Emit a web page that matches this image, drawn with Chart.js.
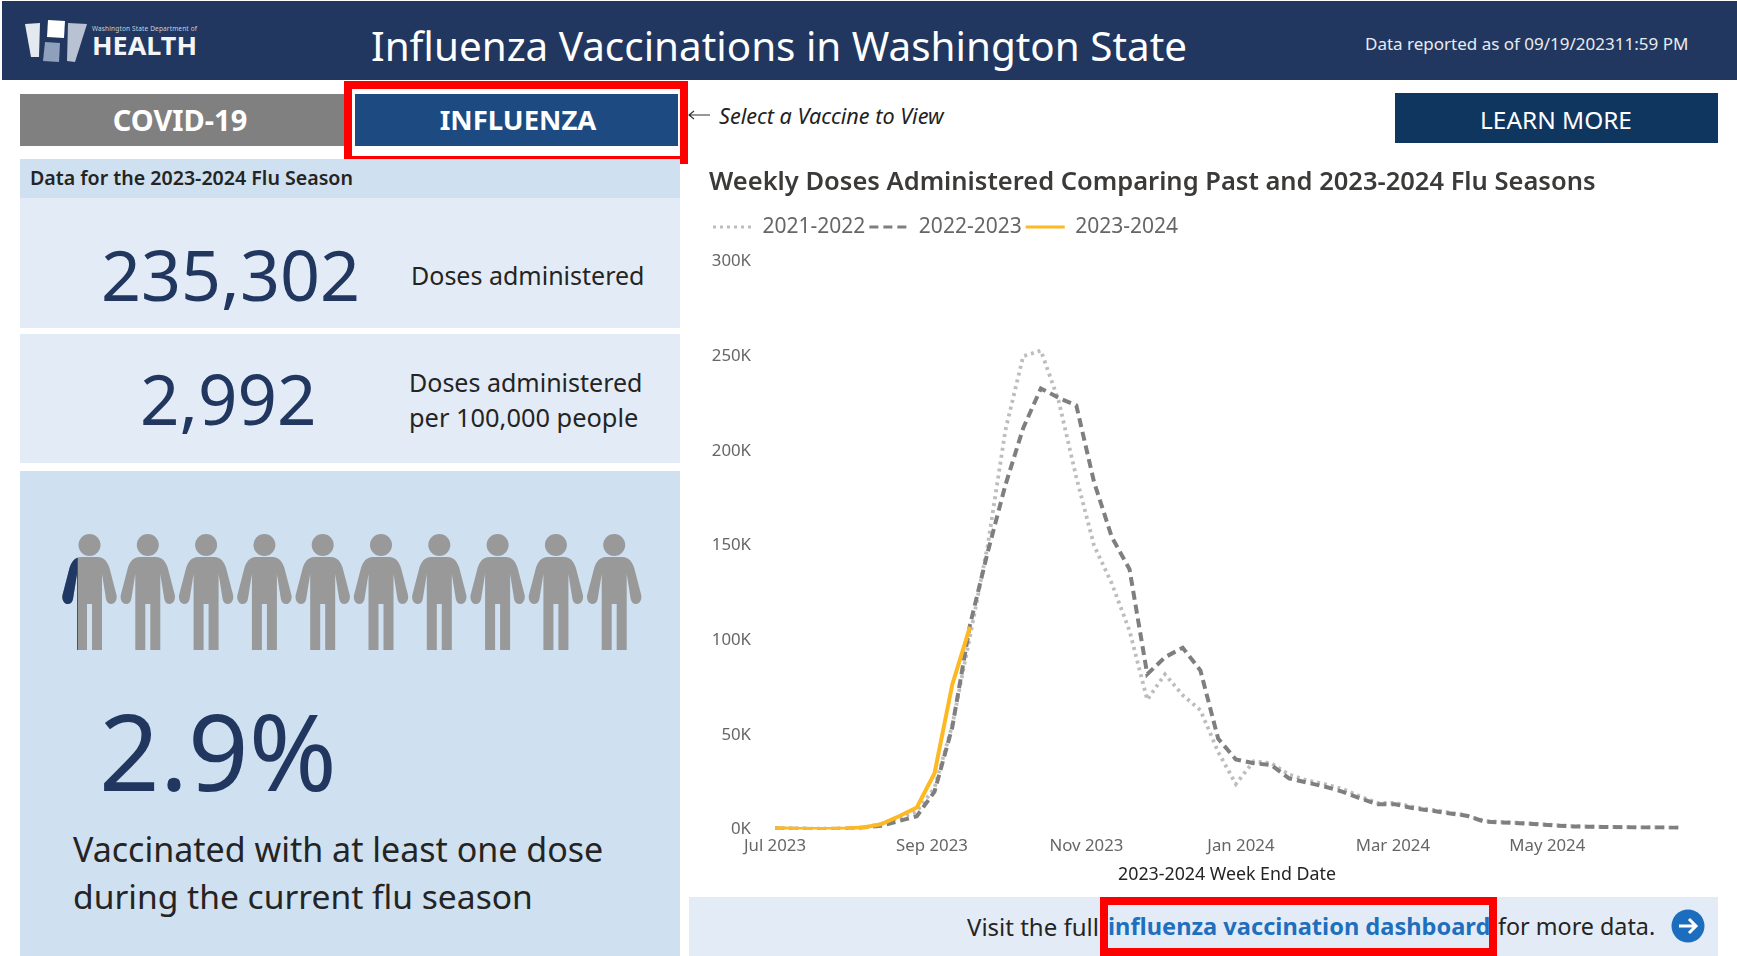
<!DOCTYPE html>
<html>
<head>
<meta charset="utf-8">
<title>Influenza Vaccinations in Washington State</title>
<script src="https://cdn.jsdelivr.net/npm/chart.js@4"></script>
<style>
  html, body { margin: 0; padding: 0; background: #fff; }
  body { width: 1737px; height: 956px; position: relative; overflow: hidden; font-family: "Noto Sans", sans-serif; }
  .box { position: absolute; }
  .txt { position: absolute; white-space: nowrap; line-height: 1; transform: translateY(-50%); }
  .ctr { transform: translate(-50%, -50%); }
  .stat { color: #21375f; }
  .redbox { position: absolute; border: 8px solid #ff0000; box-sizing: border-box; }
  #chart-wrap { position: absolute; left: 690px; top: 160px; width: 1047px; height: 726px; }
</style>
</head>
<body>
  <!-- header -->
  <div class="box" style="left:2px;top:1px;width:1735px;height:79px;background:#21375f"></div>
  <svg class="box" style="left:20px;top:14px" width="180" height="54">
    <polygon points="5,10 20,9 19,43 11,43" fill="#e4e8ef"/>
    <polygon points="28,6 45,7 44,24 27,23" fill="#ffffff"/>
    <polygon points="25,28 40,29 39,48 23,47" fill="#8fa0bc"/>
    <polygon points="48,9 67,10 55,48 47,47" fill="#b8c2d2"/>
    <text x="72" y="17" font-size="6.5" fill="#c8d0dc" font-family="Noto Sans" textLength="105">Washington State Department of</text>
    <text x="72" y="41" font-size="25" font-weight="700" fill="#f2f4f7" font-family="Noto Sans" textLength="105" lengthAdjust="spacingAndGlyphs">HEALTH</text>
  </svg>
  <div class="txt ctr" style="left:779px;top:46px;font-size:40.4px;color:#fff">Influenza Vaccinations in Washington State</div>
  <div class="txt" style="left:1365px;top:43px;font-size:17px;color:#e8ecf2">Data reported as of 09/19/202311:59 PM</div>

  <!-- vaccine buttons -->
  <div class="box" style="left:20px;top:94px;width:324px;height:52px;background:#808080"></div>
  <div class="txt ctr" style="left:180px;top:119px;font-size:29px;font-weight:700;color:#fff">COVID-19</div>
  <div class="box" style="left:355px;top:94px;width:323px;height:52px;background:#1d4a80"></div>
  <div class="txt ctr" style="left:518px;top:120px;font-size:27.5px;font-weight:700;color:#fff">INFLUENZA</div>
  <div class="redbox" style="left:344px;top:81px;width:344px;height:83px"></div>
  <svg class="box" style="left:687px;top:108px" width="24" height="14">
    <path d="M2,7 H23 M7,3 L2,7 L7,11" stroke="#333" stroke-width="1.2" fill="none"/>
  </svg>
  <div class="txt" style="left:719px;top:116px;font-size:21.6px;font-style:italic;color:#222">Select a Vaccine to View</div>
  <div class="box" style="left:1395px;top:93px;width:323px;height:50px;background:#0f365f"></div>
  <div class="txt ctr" style="left:1556px;top:120px;font-size:24.4px;color:#fff">LEARN MORE</div>

  <!-- left stat panels -->
  <div class="box" style="left:20px;top:159px;width:660px;height:39px;background:#cfe0f0"></div>
  <div class="txt" style="left:30px;top:178px;font-size:19.6px;font-weight:600;color:#252423">Data for the 2023-2024 Flu Season</div>
  <div class="box" style="left:20px;top:198px;width:660px;height:130px;background:#e3ecf6"></div>
  <div class="box" style="left:20px;top:334px;width:660px;height:129px;background:#e3ecf6"></div>
  <div class="txt stat" style="left:101px;top:274px;font-size:70px">235,302</div>
  <div class="txt" style="left:411px;top:275px;font-size:25px;color:#252423">Doses administered</div>
  <div class="txt stat" style="left:140px;top:398px;font-size:69px">2,992</div>
  <div class="txt" style="left:409px;top:382px;font-size:25px;color:#252423">Doses administered</div>
  <div class="txt" style="left:409px;top:418px;font-size:25.4px;color:#252423">per 100,000 people</div>

  <div class="box" style="left:20px;top:471px;width:660px;height:485px;background:#cfe0f0"></div>
  <svg id="people" class="box" style="left:0;top:534px" width="680" height="120"></svg>
  <div class="txt stat" style="left:99px;top:750px;font-size:106px">2.9%</div>
  <div class="txt" style="left:73px;top:849px;font-size:34px;color:#252423">Vaccinated with at least one dose</div>
  <div class="txt" style="left:73px;top:897px;font-size:33.6px;color:#252423">during the current flu season</div>

  <!-- chart -->
  <div id="chart-wrap"><canvas id="dosesChart"></canvas></div>

  <!-- footer link -->
  <div class="box" style="left:689px;top:897px;width:1029px;height:59px;background:#e3ecf6"></div>
  <div class="txt" style="left:967px;top:927px;font-size:24px;color:#252423">Visit the full</div>
  <div class="txt" style="left:1108px;top:927px;font-size:23.6px;font-weight:700;color:#1f6fbf">influenza vaccination dashboard</div>
  <div class="txt" style="left:1498px;top:927px;font-size:23.3px;color:#252423">for more data.</div>
  <div class="redbox" style="left:1100px;top:897px;width:397px;height:59px"></div>
  <svg class="box" style="left:1671px;top:909px" width="34" height="34">
    <circle cx="17" cy="17" r="16.5" fill="#1c6dbd"/>
    <path d="M8,17 H25 M18,10 L25,17 L18,24" stroke="#fff" stroke-width="3" fill="none"/>
  </svg>

<script>
const weekEndDates = [
  '2023-07-01','2023-07-08','2023-07-15','2023-07-22','2023-07-29','2023-08-05','2023-08-12','2023-08-19','2023-08-26',
  '2023-09-02','2023-09-09','2023-09-16','2023-09-23','2023-09-30','2023-10-07','2023-10-14','2023-10-21','2023-10-28',
  '2023-11-04','2023-11-11','2023-11-18','2023-11-25','2023-12-02','2023-12-09','2023-12-16','2023-12-23','2023-12-30',
  '2024-01-06','2024-01-13','2024-01-20','2024-01-27','2024-02-03','2024-02-10','2024-02-17','2024-02-24',
  '2024-03-02','2024-03-09','2024-03-16','2024-03-23','2024-03-30','2024-04-06','2024-04-13','2024-04-20','2024-04-27',
  '2024-05-04','2024-05-11','2024-05-18','2024-05-25','2024-06-01','2024-06-08','2024-06-15','2024-06-22'
];
const doses2021 = [
  600, 500, 400, 400, 500, 1000, 3000, 6000, 9500, 22000,
  55000, 102000, 150000, 211000, 250000, 253000, 226500, 186000, 150000, 130000,
  105000, 68500, 82000, 71000, 63000, 41000, 24000, 36000, 35000, 29000,
  26000, 24000, 21500, 17500, 14000, 14000, 12000, 10500, 9000, 7500,
  4500, 4000, 3500, 3000, 2300, 1800, 1500, 1400, 1200, 1100, 1000, 900
];
const doses2022 = [
  500, 400, 300, 300, 400, 1000, 2000, 4500, 7000, 20000,
  54000, 108000, 146500, 182000, 212000, 233000, 228000, 224000, 183500, 154500,
  137500, 82000, 91000, 96000, 84000, 48000, 37000, 35000, 34000, 27000,
  24800, 22700, 20000, 16500, 13300, 13300, 11200, 10000, 8600, 7300,
  4200, 3700, 3300, 2800, 2100, 1600, 1400, 1300, 1200, 1000, 1000, 900
];
const doses2023 = [600, 400, 300, 300, 500, 1000, 2800, 7000, 11600, 29700, 76500, 107000];
const tickDates = ['2023-07-01', '2023-09-01', '2023-11-01', '2024-01-01', '2024-03-01', '2024-05-01'];
const tickLabels = ['Jul 2023', 'Sep 2023', 'Nov 2023', 'Jan 2024', 'Mar 2024', 'May 2024'];

const toMs = d => Date.parse(d + 'T00:00:00Z');
const toPoints = vals => vals.map((v, i) => ({ x: toMs(weekEndDates[i]), y: v }));
const FONT = '"Noto Sans", sans-serif';

// pictogram row, first figure's arm is filled navy
const PERSON = 'M21,23 H37 C44,23 47,28 49,34 L56,61 C57,66 54,70 51,70 C48,70 46,68 45.5,65 L41.5,40 V116 H31.5 V70 H26.5 V116 H16.5 V40 L12.5,65 C12,68 10,70 7,70 C4,70 1,66 2,61 L9,34 C11,28 14,23 21,23 Z';
let people = '<defs><clipPath id="arm"><rect x="0" y="0" width="17.2" height="120"/></clipPath></defs>';
for (let i = 0; i < 10; i++) {
  const x = 60.5 + i * 58.3;
  people += `<g transform="translate(${x},0)"><circle cx="29" cy="11" r="11" fill="#999"/><path d="${PERSON}" fill="#999"/>`;
  if (i === 0) people += `<path d="${PERSON}" fill="#1f3864" clip-path="url(#arm)"/>`;
  people += '</g>';
}
document.getElementById('people').innerHTML = people;

// extra room under the legend
const legendGap = {
  id: 'legendGap',
  beforeInit(chart) {
    const fit = chart.legend.fit;
    chart.legend.fit = function () {
      fit.call(this);
      this.height += 14;
    };
  },
};

const ctx = document.getElementById('dosesChart').getContext('2d');
new Chart(ctx, {
  type: 'line',
  plugins: [legendGap],
  data: {
    datasets: [{
      label: '2021-2022',
      data: toPoints(doses2021),
      borderColor: '#bdbdbd',
      borderWidth: 3.8,
      borderDash: [3, 4],
      pointRadius: 0,
      order: 3,
    }, {
      label: '2022-2023',
      data: toPoints(doses2022),
      borderColor: '#7f7f7f',
      borderWidth: 4,
      borderDash: [9, 5],
      pointRadius: 0,
      order: 2,
    }, {
      label: '2023-2024',
      data: toPoints(doses2023),
      borderColor: '#fdb924',
      borderWidth: 4,
      pointRadius: 0,
      order: 1,
    }]
  },
  options: {
    responsive: true,
    maintainAspectRatio: false,
    animation: false,
    layout: { padding: { left: 19, right: 58, top: 7, bottom: 0 } },
    scales: {
      x: {
        type: 'linear',
        min: toMs(weekEndDates[0]),
        max: toMs(weekEndDates[weekEndDates.length - 1]),
        grid: { display: false, drawTicks: false },
        border: { display: false },
        afterBuildTicks: axis => { axis.ticks = tickDates.map(d => ({ value: toMs(d) })); },
        ticks: {
          autoSkip: false,
          maxRotation: 0,
          padding: 7,
          color: '#666666',
          font: { family: FONT, size: 16.8 },
          callback: (v, i) => tickLabels[i],
        },
        title: {
          display: true,
          text: '2023-2024 Week End Date',
          color: '#252423',
          padding: { top: 1, bottom: 0 },
          font: { family: FONT, size: 17.8 },
        },
      },
      y: {
        min: 0,
        max: 300000,
        grid: { display: false, drawTicks: false },
        border: { display: false },
        afterFit: axis => { axis.width = 66; },
        ticks: {
          stepSize: 50000,
          padding: 24,
          color: '#666666',
          font: { family: FONT, size: 16.8 },
          callback: v => (v / 1000) + 'K',
        },
      },
    },
    plugins: {
      title: {
        display: true,
        text: 'Weekly Doses Administered Comparing Past and 2023-2024 Flu Seasons',
        align: 'start',
        color: '#3b3a39',
        padding: { top: 0, bottom: 15 },
        font: { family: FONT, size: 25.5, weight: '600' },
      },
      legend: {
        display: true,
        position: 'top',
        align: 'start',
        labels: {
          usePointStyle: true,
          pointStyle: 'line',
          pointStyleWidth: 39,
          padding: 4,
          color: '#666666',
          font: { family: FONT, size: 21 },
          sort: (a, b) => a.datasetIndex - b.datasetIndex,
          generateLabels(chart) {
            const items = Chart.defaults.plugins.legend.labels.generateLabels(chart);
            items.forEach(item => {
              const ds = chart.data.datasets[item.datasetIndex];
              item.lineDash = ds.borderDash || [];
              item.lineWidth = 3;
              item.strokeStyle = ds.borderColor;
            });
            return items;
          },
        },
      },
      tooltip: { enabled: false },
    },
  },
});
</script>
</body>
</html>
